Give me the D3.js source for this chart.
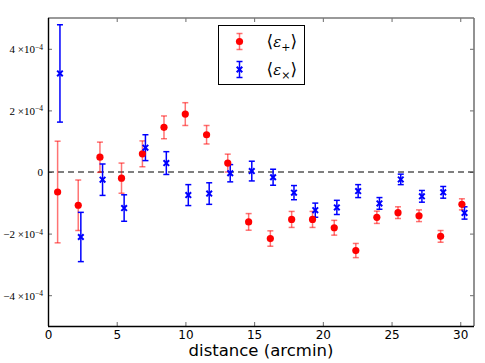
<!DOCTYPE html>
<html>
<head>
<meta charset="utf-8">
<script src="https://cdn.jsdelivr.net/npm/d3@7"></script>
<style>
  body { margin: 0; background: #fff; }
  svg { display: block; }
</style>
</head>
<body>
<svg id="chart" width="485" height="363"></svg>
<script>
// distance (arcmin) of each bin
const plusX  = [0.70, 2.20, 3.78, 5.35, 6.87, 8.44, 9.99, 11.54, 13.08, 14.60, 16.18, 17.73, 19.25, 20.83, 22.40, 23.93, 25.47, 27.00, 28.57, 30.12]
const plusY  = [-0.65, -1.08, 0.48, -0.20, 0.59, 1.45, 1.88, 1.21, 0.29, -1.62, -2.16, -1.54, -1.54, -1.81, -2.55, -1.47, -1.32, -1.42, -2.09, -1.05]
const plusE  = [1.65, 0.82, 0.49, 0.49, 0.42, 0.37, 0.37, 0.30, 0.29, 0.27, 0.25, 0.26, 0.26, 0.24, 0.23, 0.20, 0.19, 0.19, 0.19, 0.18]

const crossX = [0.87, 2.39, 3.97, 5.54, 7.09, 8.61, 10.21, 11.73, 13.26, 14.83, 16.38, 17.90, 19.45, 21.02, 22.57, 24.12, 25.67, 27.21, 28.76, 30.31]
const crossY = [3.20, -2.11, -0.25, -1.17, 0.79, 0.29, -0.75, -0.70, -0.04, 0.03, -0.17, -0.67, -1.24, -1.15, -0.62, -1.02, -0.24, -0.79, -0.66, -1.33]
const crossE = [1.58, 0.80, 0.51, 0.43, 0.42, 0.37, 0.34, 0.35, 0.28, 0.32, 0.26, 0.23, 0.23, 0.23, 0.21, 0.19, 0.17, 0.19, 0.19, 0.20]

const xTicks = [0, 5, 10, 15, 20, 25, 30]
const yTicks = [-4, -2, 0, 2, 4]   // in units of 1e-4

const m = {t: 18, b: 37, l: 48, r: 11}
const W = 485, H = 363
const w = W - m.l - m.r, h = H - m.t - m.b

const svg = d3.select("#chart")

const x = d3.scaleLinear().domain([0, 31]).range([0, w])
const y = d3.scaleLinear().domain([-5, 5]).range([h, 0])

const g = svg.append("g").attr("transform", `translate(${m.l},${m.t})`)

// zero line
g.append("line")
    .attr("x1", 0).attr("x2", w)
    .attr("y1", y(0)).attr("y2", y(0))
    .attr("stroke", "#000").attr("stroke-width", 1.1)
    .attr("stroke-dasharray", "6,4")

// axes with inward ticks
const tickStyle = sel => {
    sel.select(".domain").remove()
    sel.selectAll(".tick line").attr("stroke", "#444").attr("stroke-width", 0.8)
}

g.append("g").attr("transform", `translate(0,${h})`)
    .call(d3.axisBottom(x).tickValues(xTicks).tickSize(-4).tickPadding(4))
    .call(tickStyle)
    .selectAll("text")
    .attr("font-family", "DejaVu Sans").attr("font-size", 12).attr("fill", "#000")

g.append("g")
    .call(d3.axisTop(x).tickValues(xTicks).tickSize(-4).tickFormat(""))
    .call(tickStyle)

g.append("g").attr("transform", `translate(${w},0)`)
    .call(d3.axisRight(y).tickValues(yTicks).tickSize(-4).tickFormat(""))
    .call(tickStyle)

const yAx = g.append("g")
    .call(d3.axisLeft(y).tickValues(yTicks).tickSize(-4).tickFormat(""))
    .call(tickStyle)

yAx.selectAll(".tick").append("text")
    .attr("x", -5).attr("dy", "0.35em")
    .attr("text-anchor", "end")
    .attr("font-family", "Liberation Serif")
    .attr("font-size", 11)
    .attr("fill", "#000")
    .each(function(d) {
        const t = d3.select(this)
        if (d === 0) { t.text("0"); return }
        t.append("tspan").text((d < 0 ? "\u2212" : "") + Math.abs(d) + " \u00d710")
        t.append("tspan").attr("dy", "-0.45em").attr("font-size", 7.5).text("\u22124")
    })

// frame
g.append("line").attr("x1", 0).attr("x2", w).attr("y1", 0).attr("y2", 0)
    .attr("stroke", "#777").attr("stroke-width", 1.6)
g.append("line").attr("x1", w).attr("x2", w).attr("y1", 0).attr("y2", h)
    .attr("stroke", "#777").attr("stroke-width", 1.6)
g.append("line").attr("x1", 0.5).attr("x2", 0.5).attr("y1", 0).attr("y2", h)
    .attr("stroke", "#000").attr("stroke-width", 1.4)
g.append("line").attr("x1", 0).attr("x2", w).attr("y1", h + 0.5).attr("y2", h + 0.5)
    .attr("stroke", "#000").attr("stroke-width", 1.4)

// error bars
function errorBars(xs, ys, es, color, opacity, sw, capW) {
    const data = xs.map((v, i) => ({x: v, y: ys[i], e: es[i]}))
    const eg = g.append("g").attr("stroke", color).attr("stroke-opacity", opacity).attr("stroke-width", sw)
    eg.selectAll(".bar").data(data).join("line")
        .attr("x1", d => x(d.x)).attr("x2", d => x(d.x))
        .attr("y1", d => y(d.y - d.e)).attr("y2", d => y(d.y + d.e))
    eg.selectAll(".capT").data(data).join("line")
        .attr("x1", d => x(d.x) - capW).attr("x2", d => x(d.x) + capW)
        .attr("y1", d => y(d.y + d.e)).attr("y2", d => y(d.y + d.e))
    eg.selectAll(".capB").data(data).join("line")
        .attr("x1", d => x(d.x) - capW).attr("x2", d => x(d.x) + capW)
        .attr("y1", d => y(d.y - d.e)).attr("y2", d => y(d.y - d.e))
    return data
}

const plusData = errorBars(plusX, plusY, plusE, "#f00", 0.55, 1.5, 3)
const crossData = errorBars(crossX, crossY, crossE, "#00f", 1, 1.5, 3)

g.selectAll(".pt").data(plusData).join("circle")
    .attr("cx", d => x(d.x)).attr("cy", d => y(d.y)).attr("r", 3.6)
    .attr("fill", "#f00")

const cross = (cx, cy, s) => `M${cx - s},${cy - s}L${cx + s},${cy + s}M${cx - s},${cy + s}L${cx + s},${cy - s}`

g.selectAll(".xpt").data(crossData).join("path")
    .attr("d", d => cross(x(d.x), y(d.y), 2.8))
    .attr("stroke", "#00f").attr("stroke-width", 2).attr("fill", "none")

// axis label
svg.append("text")
    .attr("x", m.l + w / 2).attr("y", 356)
    .attr("text-anchor", "middle")
    .attr("font-family", "DejaVu Sans").attr("font-size", 16.5)
    .text("distance (arcmin)")

// legend
const lg = svg.append("g").attr("transform", "translate(218.5,25.5)")
lg.append("rect").attr("width", 86).attr("height", 59)
    .attr("fill", "#fff").attr("stroke", "#000").attr("stroke-width", 1)

const legendItems = [
    {y: 16, color: "#f00", op: 0.55, sub: "+", kind: "dot"},
    {y: 44, color: "#00f", op: 1, sub: "\u00d7", kind: "x"}
]
legendItems.forEach(it => {
    const cx = 21
    lg.append("line").attr("x1", cx).attr("x2", cx).attr("y1", it.y - 8).attr("y2", it.y + 8)
        .attr("stroke", it.color).attr("stroke-opacity", it.op).attr("stroke-width", 1.5)
    ;[-8, 8].forEach(dy => lg.append("line")
        .attr("x1", cx - 3).attr("x2", cx + 3).attr("y1", it.y + dy).attr("y2", it.y + dy)
        .attr("stroke", it.color).attr("stroke-opacity", it.op).attr("stroke-width", 1.5))
    if (it.kind === "dot") {
        lg.append("circle").attr("cx", cx).attr("cy", it.y).attr("r", 3.6).attr("fill", it.color)
    } else {
        lg.append("path").attr("d", cross(cx, it.y, 2.8))
            .attr("stroke", it.color).attr("stroke-width", 2).attr("fill", "none")
    }
    const t = lg.append("text").attr("x", 48).attr("y", it.y + 5)
        .attr("font-family", "DejaVu Serif").attr("font-size", 15)
    t.append("tspan").attr("font-size", 17).text("\u27e8")
    t.append("tspan").attr("font-style", "italic").text("\u03b5")
    t.append("tspan").attr("font-size", 11).attr("dy", 4).text(it.sub)
    t.append("tspan").attr("dy", -4).attr("font-size", 17).text("\u27e9")
})
</script>
</body>
</html>
